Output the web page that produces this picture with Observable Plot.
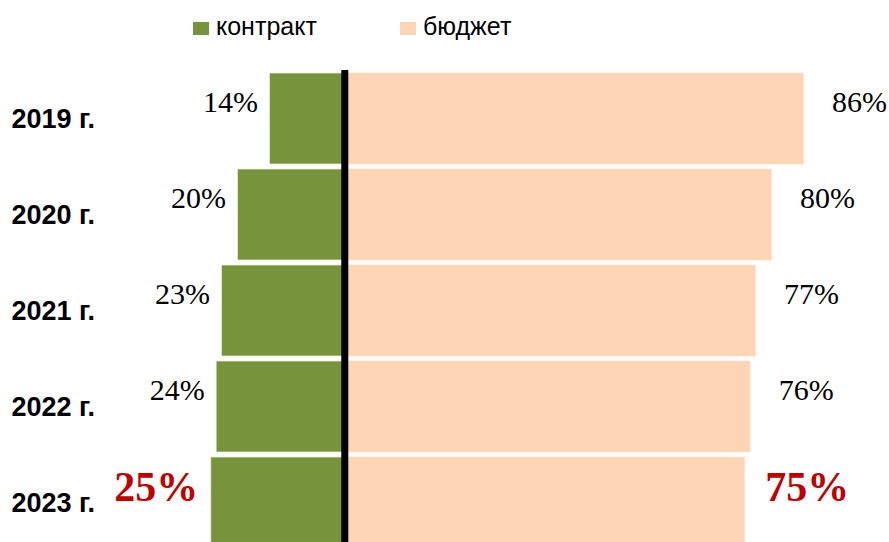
<!DOCTYPE html>
<html>
<head>
<meta charset="utf-8">
<script src="https://cdn.jsdelivr.net/npm/d3@7"></script>
<script src="https://cdn.jsdelivr.net/npm/@observablehq/plot@0.6"></script>
<style>
  html, body { margin: 0; padding: 0; background: #fff; }
  #wrap { position: relative; width: 889px; height: 542px; overflow: hidden; }
  #legend { position: relative; width: 889px; height: 55px; font-family: "Liberation Sans", Arial, sans-serif; font-size: 25px; color: #000; }
  .sw { position: absolute; top: 22px; width: 16px; height: 13px; }
  .lt { position: absolute; top: 14px; line-height: 25px; white-space: nowrap; }
  #chart svg { display: block; }
</style>
</head>
<body>
<div id="wrap">
  <div id="legend"></div>
  <div id="chart"></div>
</div>
<script>
// ---- data ----
const years = ["2019 г.", "2020 г.", "2021 г.", "2022 г.", "2023 г."];
const contract = [14, 20, 23, 24, 25];
const budget = [86, 80, 77, 76, 75];
const seriesNames = ["контракт", "бюджет"];
const highlightYear = "2023 г.";

// ---- styles ----
const colContract = "#77933c";
const colBudget = "#fcd5b5";
const colHighlight = "#c00000";

// legend
const legend = document.getElementById("legend");
[[seriesNames[0], colContract, 193, 216], [seriesNames[1], colBudget, 400, 423]].forEach(([name, c, sx, tx]) => {
  const s = document.createElement("div");
  s.className = "sw"; s.style.left = sx + "px"; s.style.background = c;
  legend.appendChild(s);
  const t = document.createElement("div");
  t.className = "lt"; t.style.left = tx + "px"; t.textContent = name;
  legend.appendChild(t);
});

const rows = years.map((y, i) => ({year: y, contract: contract[i], budget: budget[i], hi: y === highlightYear}));
const normal = rows.filter(d => !d.hi);
const hi = rows.filter(d => d.hi);

const pxPer = 5.34, x0 = 344.3;
const chart = Plot.plot({
  width: 889,
  height: 487,
  marginTop: 15,
  marginBottom: 0,
  marginLeft: 0,
  marginRight: 0,
  x: {domain: [-60, 100], range: [x0 - 60 * pxPer, x0 + 100 * pxPer], axis: null},
  y: {domain: years, range: [15.8, 495.8], paddingInner: 0.052, paddingOuter: 0.026, axis: null},
  marks: [
    Plot.barX(rows, {y: "year", x1: d => -d.contract, x2: () => 0, fill: colContract, stroke: "#e8ead8", strokeWidth: 0.8}),
    Plot.barX(rows, {y: "year", x1: () => 0, x2: d => d.budget, fill: colBudget, stroke: "#fde6d3", strokeWidth: 0.8}),
    Plot.ruleX([0], {stroke: "#000", strokeWidth: 7}),
    Plot.text(rows, {y: "year", text: "year", frameAnchor: "left", dx: 11, textAnchor: "start",
      fontFamily: "Liberation Sans, Arial, sans-serif", fontWeight: "bold", fontSize: 27, fill: "#000"}),
    Plot.text(normal, {y: "year", x: d => -d.contract, text: d => d.contract + "%", textAnchor: "end", dx: -12, dy: -17,
      fontFamily: "Liberation Serif, Times New Roman, serif", fontSize: 30, fill: "#000"}),
    Plot.text(normal, {y: "year", x: d => d.budget, text: d => d.budget + "%", textAnchor: "start", dx: 28, dy: -17,
      fontFamily: "Liberation Serif, Times New Roman, serif", fontSize: 30, fill: "#000"}),
    Plot.text(hi, {y: "year", x: d => -d.contract, text: d => d.contract + "%", textAnchor: "end", dx: -13, dy: -15,
      fontFamily: "Liberation Serif, Times New Roman, serif", fontWeight: "bold", fontSize: 42, fill: colHighlight}),
    Plot.text(hi, {y: "year", x: d => d.budget, text: d => d.budget + "%", textAnchor: "start", dx: 20, dy: -15,
      fontFamily: "Liberation Serif, Times New Roman, serif", fontWeight: "bold", fontSize: 42, fill: colHighlight})
  ]
});
document.getElementById("chart").appendChild(chart);
</script>
</body>
</html>
